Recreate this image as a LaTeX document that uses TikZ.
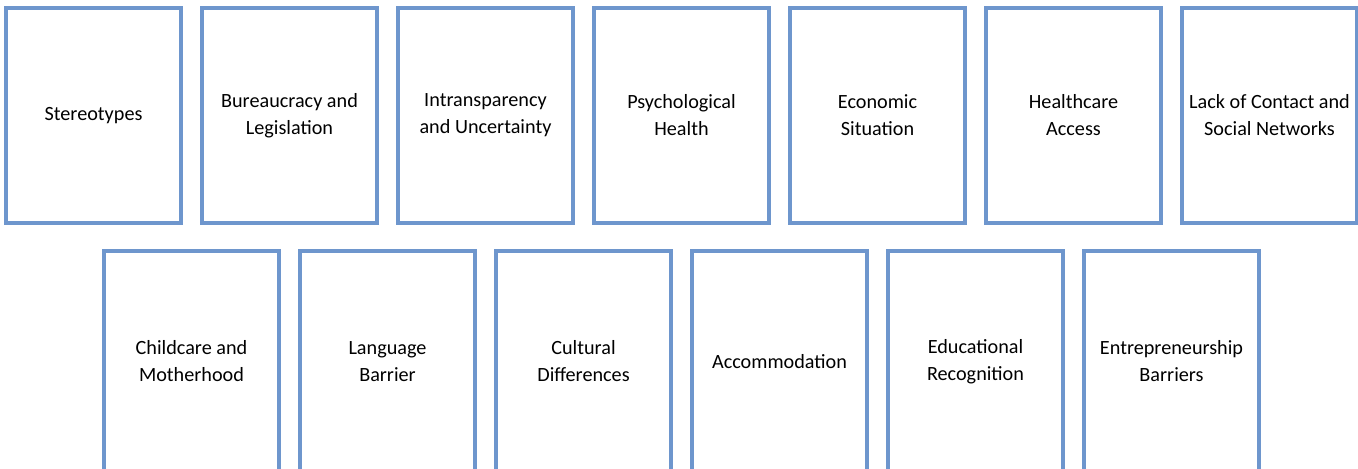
\documentclass[tikz,border=0pt]{standalone}
\usepackage{fontspec}
\setmainfont{Carlito}
\definecolor{boxblue}{RGB}{110,150,205}

\begin{document}
\begin{tikzpicture}[x=0.02cm,y=-0.02cm,
  barrier/.style={draw=boxblue,line width=2pt,minimum width=3.5cm,minimum height=4.3cm,
    align=center,inner sep=2pt,font=\fontsize{11.5}{15.4}\selectfont},
  lowbarrier/.style={barrier,minimum height=4.42cm}]

\useasboundingbox (0,0) rectangle (1358,468);
\clip (0,0) rectangle (1358,468);

% top row
\node[barrier] (Stereo) at (93.5,115.5) {Stereotypes};
\node[barrier] (Bureau) at (289.5,115.5) {Bureaucracy and\\Legislation};
\node[barrier] (Intrans) at (485.5,115.5) {Intransparency\\and Uncertainty};
\node[barrier] (Psych) at (681.5,115.5) {Psychological\\Health};
\node[barrier] (Econ) at (877.5,115.5) {Economic\\Situation};
\node[barrier] (Health) at (1073.5,115.5) {Healthcare\\Access};
\node[barrier] (Contact) at (1269.5,115.5) {Lack of Contact and\\Social Networks};

% bottom row (cut off at the lower edge)
\node[lowbarrier] (Child) at (191.5,361.5) {Childcare and\\Motherhood};
\node[lowbarrier] (Lang) at (387.5,361.5) {Language\\Barrier};
\node[lowbarrier] (Cult) at (583.5,361.5) {Cultural\\Differences};
\node[lowbarrier] (Accom) at (779.5,361.5) {Accommodation};
\node[lowbarrier] (Educ) at (975.5,361.5) {Educational\\Recognition};
\node[lowbarrier] (Entre) at (1171.5,361.5) {Entrepreneurship\\Barriers};

\end{tikzpicture}
\end{document}
